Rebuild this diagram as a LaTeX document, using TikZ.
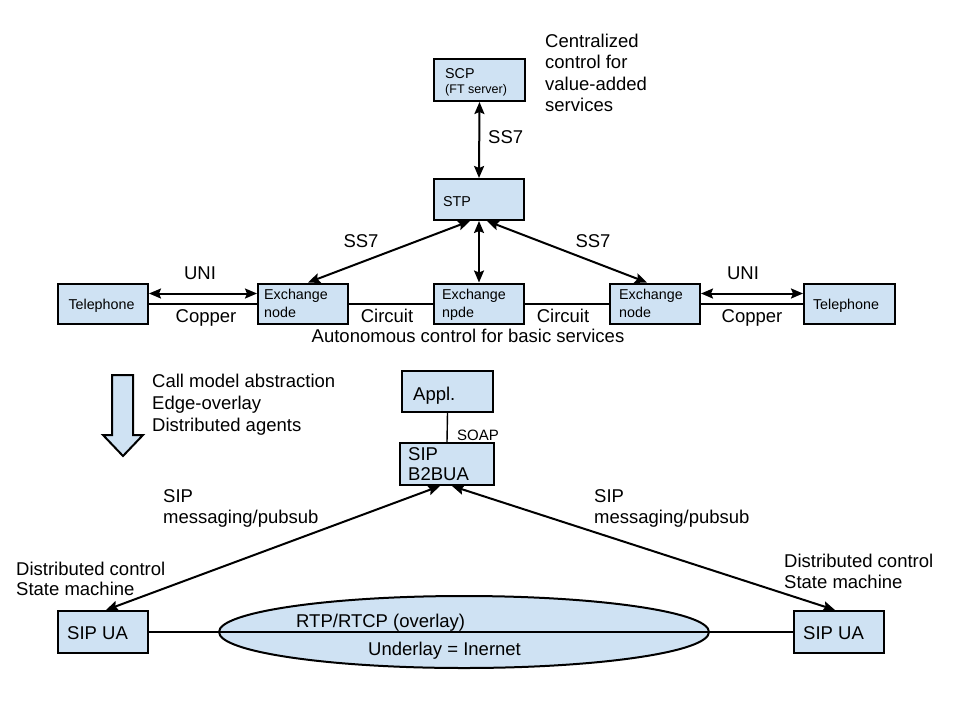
\documentclass[tikz,border=0pt]{standalone}
\usepackage{fontspec}
\setmainfont{Liberation Sans}
\usetikzlibrary{arrows.meta,shapes.geometric}
\definecolor{boxblue}{HTML}{CFE2F3}
\tikzset{
  box/.style={draw=black, line width=2pt, fill=boxblue, inner sep=0pt},
  lbl/.style={inner sep=0pt, font=\fontsize{18.5}{22}\selectfont},
  boxtxt/.style={inner sep=0pt, anchor=base west, font=\fontsize{14.3}{17}\selectfont},
  bigtxt/.style={inner sep=0pt, anchor=base west, font=\fontsize{18.5}{22}\selectfont},
  conn/.style={line width=2pt},
  thin/.style={line width=1.4pt},
  dbl/.style={line width=2pt, {Stealth[length=12pt,width=10pt,inset=2pt]}-{Stealth[length=12pt,width=10pt,inset=2pt]}}
}
\begin{document}
\begin{tikzpicture}[x=1pt,y=-1pt]
\useasboundingbox (0,0) rectangle (960,720);

% top network boxes
\node[box, minimum width=91, minimum height=42] (scp) at (479.5,80) {};
\node[box, minimum width=90, minimum height=41] (stp) at (479,199.5) {};
\node[box, minimum width=90, minimum height=40] (tel1) at (103,303.5) {};
\node[box, minimum width=90, minimum height=40] (ex1) at (303,303.5) {};
\node[box, minimum width=90, minimum height=40] (ex2) at (479,303.5) {};
\node[box, minimum width=90, minimum height=40] (ex3) at (655,303.5) {};
\node[box, minimum width=91, minimum height=40] (tel2) at (849.5,303.5) {};

\node[boxtxt] (scpt) at (445,78) {SCP};
\node[boxtxt, font=\fontsize{12.5}{14}\selectfont] (scpt2) at (445,93) {(FT server)};
\node[boxtxt] (stpt) at (443,206) {STP};
\node[boxtxt, anchor=base] (tel1t) at (101.5,309) {Telephone};
\node[boxtxt, anchor=base] (tel2t) at (846,309) {Telephone};
\node[boxtxt] (ex1a) at (264,299) {Exchange};
\node[boxtxt] (ex1b) at (264,317) {node};
\node[boxtxt] (ex2a) at (442,299) {Exchange};
\node[boxtxt] (ex2b) at (442,317) {npde};
\node[boxtxt] (ex3a) at (619,299) {Exchange};
\node[boxtxt] (ex3b) at (619,317) {node};

% top connectors
\draw[dbl] (scp.south) -- (stp.north);
\draw[dbl] ([xshift=-9]stp.south) -- ([xshift=5]ex1.north);
\draw[dbl] (stp.south) -- (ex2.north);
\draw[dbl] ([xshift=8]stp.south) -- ([xshift=-8]ex3.north);
\draw[dbl] ([yshift=10]tel1.east) -- ([yshift=10]ex1.west);
\draw[dbl] ([yshift=10]ex3.east) -- ([yshift=10]tel2.west);
\draw[conn] (tel1.east) -- (ex1.west);
\draw[conn] (ex1.east) -- (ex2.west);
\draw[conn] (ex2.east) -- (ex3.west);
\draw[conn] (ex3.east) -- (tel2.west);

% top labels
\node[lbl, anchor=base west] (c1) at (545,47) {Centralized};
\node[lbl, anchor=base west] (c2) at (545,68.5) {control for};
\node[lbl, anchor=base west] (c3) at (545,90) {value-added};
\node[lbl, anchor=base west] (c4) at (545,111.5) {services};
\node[lbl, anchor=base west] (ss7a) at (488,143) {SS7};
\node[lbl, anchor=base] (ss7b) at (361,247) {SS7};
\node[lbl, anchor=base] (ss7c) at (593,247) {SS7};
\node[lbl, anchor=base] (uni1) at (200,279) {UNI};
\node[lbl, anchor=base] (uni2) at (743,279) {UNI};
\node[lbl, anchor=base] (cop1) at (206,322) {Copper};
\node[lbl, anchor=base] (cop2) at (752,322) {Copper};
\node[lbl, anchor=base] (cir1) at (387,322) {Circuit};
\node[lbl, anchor=base] (cir2) at (563,322) {Circuit};
\node[lbl, anchor=base] (auto) at (468,342) {Autonomous control for basic services};

% big down arrow
\draw[line width=2pt, fill=boxblue, line join=miter]
  (112,375) -- (133,375) -- (133,435) -- (143,435) -- (123,456) -- (103,435) -- (112,435) -- cycle;
\node[lbl, anchor=base west] (m1) at (152,387) {Call model abstraction};
\node[lbl, anchor=base west] (m2) at (152,409) {Edge-overlay};
\node[lbl, anchor=base west] (m3) at (152,431) {Distributed agents};

% bottom network
\node[box, minimum width=91, minimum height=41] (appl) at (447.5,391) {};
\node[box, minimum width=94, minimum height=42] (b2bua) at (447,464) {};
\node[bigtxt] (applt) at (413,400) {Appl.};
\node[bigtxt] (b2t1) at (408,460) {SIP};
\node[bigtxt] (b2t2) at (408,480) {B2BUA};
\draw[thin] (appl.south) -- (b2bua.north);
\node[inner sep=0pt, font=\fontsize{15}{18}\selectfont, anchor=base west] (soap) at (457,440) {SOAP};

\node[ellipse, draw=black, line width=2pt, fill=boxblue, minimum width=490, minimum height=72, inner sep=0pt] (ell) at (464,632) {};
\node[box, minimum width=90, minimum height=42] (ua1) at (103,632) {};
\node[box, minimum width=90, minimum height=42] (ua2) at (839,632) {};
\node[bigtxt] (ua1t) at (67,639) {SIP UA};
\node[bigtxt] (ua2t) at (803,639) {SIP UA};
\draw[thin] (ua1.east) -- (ua2.west);
\node[lbl, anchor=base west] (rtp) at (296,627) {RTP/RTCP (overlay)};
\node[lbl, anchor=base west] (und) at (368,655) {Underlay = Inernet};

\draw[dbl] ([xshift=3]ua1.north) -- ([xshift=-7]b2bua.south);
\draw[dbl] ([xshift=-4]ua2.north) -- ([xshift=5]b2bua.south);

\node[lbl, anchor=base west] (s1) at (163,502) {SIP};
\node[lbl, anchor=base west] (s2) at (163,523) {messaging/pubsub};
\node[lbl, anchor=base west] (s3) at (594,502) {SIP};
\node[lbl, anchor=base west] (s4) at (594,523) {messaging/pubsub};
\node[lbl, anchor=base west] (d1) at (16,575) {Distributed control};
\node[lbl, anchor=base west] (d2) at (16,595) {State machine};
\node[lbl, anchor=base west] (d3) at (784,567) {Distributed control};
\node[lbl, anchor=base west] (d4) at (784,588) {State machine};
\end{tikzpicture}
\end{document}
